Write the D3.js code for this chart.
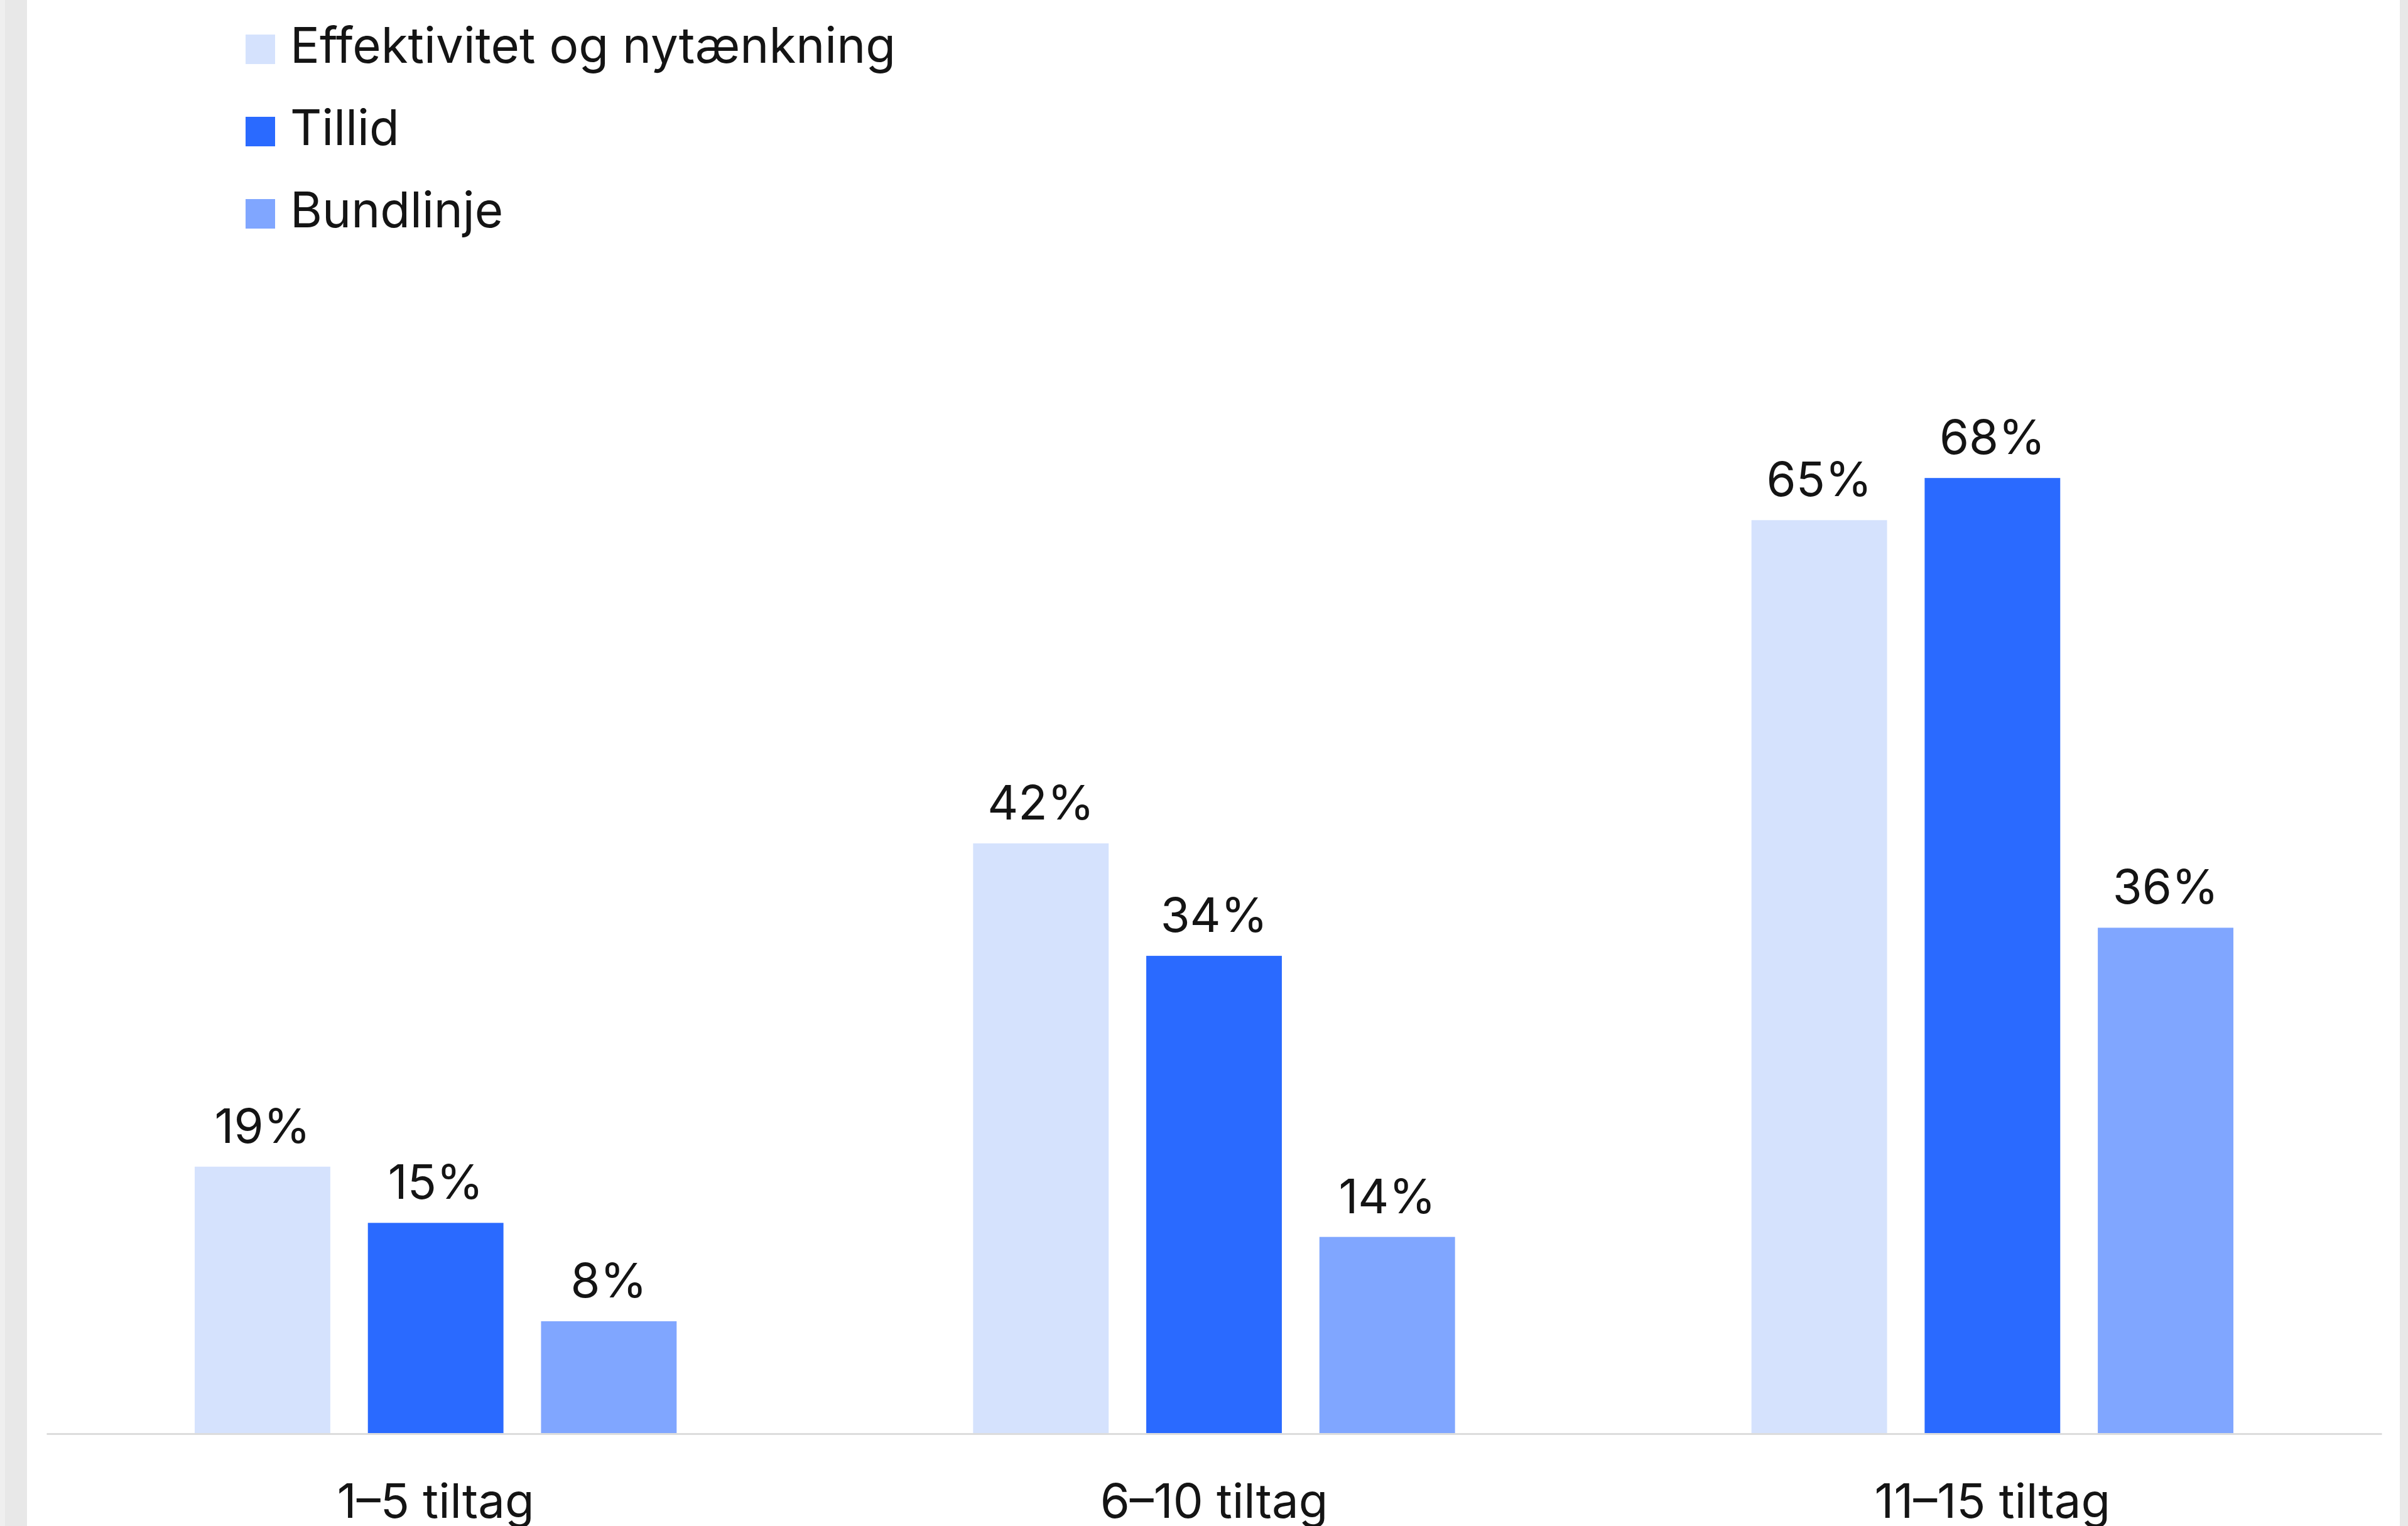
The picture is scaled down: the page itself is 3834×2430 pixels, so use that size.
<!DOCTYPE html>
<html>
<head>
<meta charset="utf-8">
<script src="https://cdn.jsdelivr.net/npm/d3@7"></script>
<style>
html,body{margin:0;padding:0;background:#fff;}
svg{display:block;}
text{font-family:Inter,"Noto Sans",sans-serif;fill:#141414;}
</style>
</head>
<body>
<script>
const categories = ["1–5 tiltag", "6–10 tiltag", "11–15 tiltag"];
const seriesNames = ["Effektivitet og nytænkning", "Tillid", "Bundlinje"];
const effektivitet = [19, 42, 65];
const tillid = [15, 34, 68];
const bundlinje = [8, 14, 36];
const seriesColors = ["#d5e2fd", "#2a6aff", "#80a6ff"];

const W = 3834, H = 2430;
const svg = d3.select("body").append("svg").attr("width", W).attr("height", H);

// side frames
svg.append("rect").attr("x",0).attr("y",0).attr("width",43).attr("height",H).attr("fill","#e8e8e8");
svg.append("rect").attr("x",0).attr("y",0).attr("width",8).attr("height",H).attr("fill","#efefef");
svg.append("rect").attr("x",3821).attr("y",0).attr("width",13).attr("height",H).attr("fill","#e8e8e8");

const seriesData = [effektivitet, tillid, bundlinje];
const rows = categories.map((c, i) => ({cat: c, vals: seriesNames.map((s, j) => ({s, j, v: seriesData[j][i]}))}));

const baseY = 2283;
const x0 = d3.scaleBand().domain(categories).range([74, 3792]).padding(0);
const x1 = d3.scaleBand().domain(seriesNames).range([0, x0.bandwidth()]).paddingInner(0.217).paddingOuter(0.856);
const y = d3.scaleLinear().domain([0, 100]).range([baseY, baseY - 2238]);

const g = svg.append("g");
const groups = g.selectAll("g.grp").data(rows).join("g").attr("class","grp")
  .attr("transform", d => `translate(${x0(d.cat)},0)`);

groups.selectAll("rect").data(d => d.vals).join("rect")
  .attr("x", d => x1(d.s))
  .attr("y", d => y(d.v))
  .attr("width", x1.bandwidth())
  .attr("height", d => y(0) - y(d.v))
  .attr("fill", d => seriesColors[d.j]);

groups.selectAll("text.val").data(d => d.vals).join("text").attr("class","val")
  .attr("x", d => x1(d.s) + x1.bandwidth()/2)
  .attr("y", d => y(d.v) - 38)
  .attr("text-anchor","middle")
  .attr("font-size", 76)
  .text(d => d.v + "%");

// axis
const axis = svg.append("g").attr("transform", `translate(0,${baseY})`)
  .call(d3.axisBottom(x0).tickSize(0).tickPadding(80));
axis.select(".domain").attr("stroke","#dcdcdc").attr("stroke-width",3);
axis.selectAll("text").attr("font-size",76).attr("fill","#141414")
  .style("font-family","Inter, 'Noto Sans', sans-serif");

// legend
const leg = svg.append("g");
const li = leg.selectAll("g").data(seriesNames).join("g")
  .attr("transform", (d,i) => `translate(391,${55 + i*131})`);
li.append("rect").attr("width",47).attr("height",47).attr("fill",(d,i)=>seriesColors[i]);
li.append("text").attr("x",71).attr("y",45).attr("font-size",78).text(d=>d);
</script>
</body>
</html>
